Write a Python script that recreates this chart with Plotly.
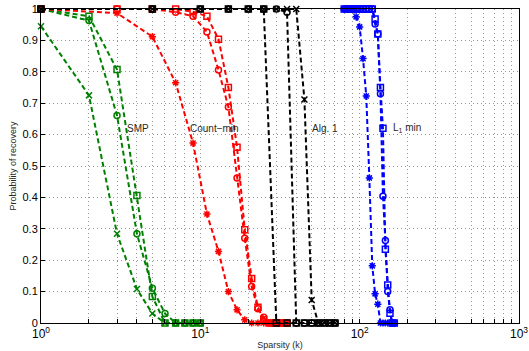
import math
import plotly.graph_objects as go

# ---------------- data ----------------
green_k = [1, 2, 3, 4, 5, 6, 7, 8, 9, 10]
green_x = [0.945, 0.725, 0.284, 0.108, 0.03, 0, 0, 0, 0, 0]
green_o = [1.0, 0.963, 0.661, 0.284, 0.111, 0.03, 0, 0, 0, 0]
green_s = [1.0, 0.977, 0.807, 0.406, 0.084, 0, 0, 0, 0, 0]

red_k = [1, 3, 5, 7, 9, 11, 13, 15, 17, 19, 21, 23, 25, 27, 29, 31, 33, 35]
red_x = [1.0, 0.987, 0.912, 0.765, 0.573, 0.347, 0.228, 0.1, 0.042, 0.01, 0, 0, 0, 0, 0, 0, 0, 0]
red_o = [1.0, 1.0, 1.0, 0.99, 0.977, 0.927, 0.806, 0.688, 0.462, 0.27, 0.116, 0.045, 0.018, 0, 0, 0, 0, 0]
red_s = [1.0, 1.0, 1.0, 1.0, 0.991, 0.977, 0.904, 0.75, 0.56, 0.297, 0.142, 0.05, 0.01, 0, 0, 0, 0, 0]

black_k = [1, 5, 10, 15, 20, 25, 30, 35, 40, 45, 50, 55, 60, 65, 70]
black_s = [1, 1, 1, 1, 1, 1, 0, 0, 0, 0, 0, 0, 0, 0, 0]
black_o = [1, 1, 1, 1, 1, 1, 1, 0.99, 0, 0, 0, 0, 0, 0, 0]
black_x = [1, 1, 1, 1, 1, 1, 1, 1, 1, 0.712, 0.073, 0, 0, 0, 0]

blue_k = [80, 85, 90, 95, 100, 105, 110, 115, 120, 125, 130, 135, 140, 145, 150, 155, 160, 165]
blue_x = [1, 1, 1, 0.975, 0.943, 0.842, 0.723, 0.462, 0.182, 0.093, 0.06, 0, 0, 0, 0, 0, 0, 0]
blue_o = [1, 1, 1, 1, 1, 1, 1, 1, 1, 0.952, 0.92, 0.73, 0.404, 0.263, 0.1, 0.042, 0, 0]
blue_s = [1, 1, 1, 1, 1, 1, 1, 1, 1, 0.968, 0.92, 0.75, 0.62, 0.235, 0.121, 0.031, 0, 0]

labels = [("SMP", 3.35), ("Count\u2212min", 8.35), ("Alg. 1", 48.7), ("L<sub>1</sub> min", 157)]
label_y = 0.62

x_decades = [1, 10, 100, 1000]
x_decade_text = ["10<sup>0</sup>", "10<sup>1</sup>", "10<sup>2</sup>", "10<sup>3</sup>"]
y_ticks = [0, 0.1, 0.2, 0.3, 0.4, 0.5, 0.6, 0.7, 0.8, 0.9, 1]
y_tick_text = ["0", "0.1", "0.2", "0.3", "0.4", "0.5", "0.6", "0.7", "0.8", "0.9", "1"]

# ---------------- figure ----------------
GREEN = "rgb(0,128,0)"
RED = "rgb(255,0,0)"
BLACK = "rgb(0,0,0)"
BLUE = "rgb(0,0,255)"
DASH = "5px,3px"
GRID = "rgb(150,150,150)"

fig = go.Figure()

def add(k, y, color, symbol):
    fig.add_trace(go.Scatter(
        x=k, y=y, mode="lines+markers",
        line=dict(color=color, width=2, dash=DASH),
        marker=dict(symbol=symbol, size=6, color=color,
                    line=dict(color=color, width=1.5)),
        cliponaxis=False, showlegend=False, hoverinfo="skip"))

add(green_k, green_x, GREEN, "x-thin-open")
add(green_k, green_o, GREEN, "circle-open")
add(green_k, green_s, GREEN, "square-open")
add(red_k, red_x, RED, "asterisk-open")
add(red_k, red_o, RED, "circle-open")
add(red_k, red_s, RED, "square-open")
add(black_k, black_s, BLACK, "square-open")
add(black_k, black_o, BLACK, "circle-open")
add(black_k, black_x, BLACK, "x-thin-open")
add(blue_k, blue_x, BLUE, "asterisk-open")
add(blue_k, blue_o, BLUE, "circle-open")
add(blue_k, blue_s, BLUE, "square-open")

for txt, kx in labels:
    fig.add_annotation(x=math.log10(kx), y=label_y, xref="x", yref="y",
                       text=txt, showarrow=False,
                       xanchor="left", yanchor="middle",
                       font=dict(size=10, color="rgb(40,40,40)"))

# minor tick positions for log grid
minor_vals = []
for d in [1, 10, 100]:
    for m in range(1, 10):
        minor_vals.append(d * m)
minor_vals.append(1000)
minor_text = []
for v in minor_vals:
    if v in x_decades:
        minor_text.append(x_decade_text[x_decades.index(v)])
    else:
        minor_text.append("")

fig.update_layout(
    width=529, height=351,
    margin=dict(l=41, r=10, t=9, b=28),
    paper_bgcolor="white", plot_bgcolor="white",
    font=dict(family="Liberation Sans, Arial, sans-serif", color="black"),
    xaxis=dict(type="log", range=[0, 3], automargin=False,
               tickmode="array", tickvals=minor_vals, ticktext=minor_text,
               ticks="inside", ticklen=4, tickcolor="black",
               showgrid=True, gridcolor=GRID, griddash="1px,3px", gridwidth=1,
               showline=True, linecolor="black", linewidth=1, mirror=True,
               tickfont=dict(size=12), zeroline=False,
               title=dict(text="Sparsity (k)", font=dict(size=9, color="rgb(40,40,40)"), standoff=1)),
    yaxis=dict(range=[0, 1], automargin=False,
               tickmode="array", tickvals=y_ticks, ticktext=y_tick_text,
               ticks="inside", ticklen=4, tickcolor="black",
               showgrid=True, gridcolor=GRID, griddash="1px,3px", gridwidth=1,
               showline=True, linecolor="black", linewidth=1, mirror=True,
               tickfont=dict(size=11), zeroline=False,
               title=dict(text="Probability of recovery", font=dict(size=9, color="rgb(40,40,40)"), standoff=4)),
)

fig.write_html("out.html", config={"displayModeBar": False},
               post_script="document.body.style.margin='0';")
